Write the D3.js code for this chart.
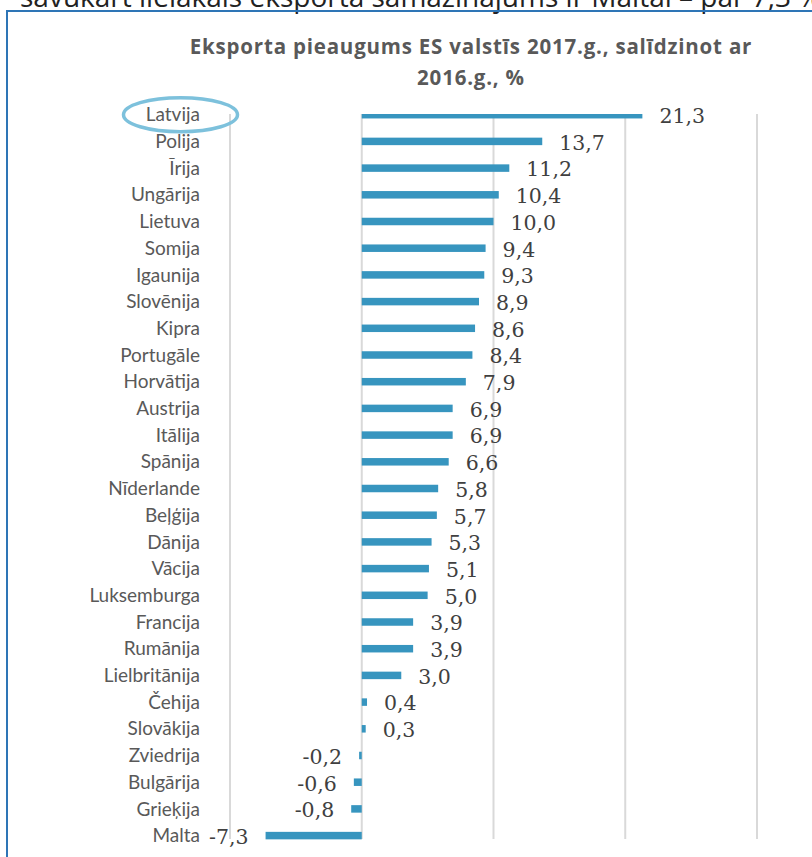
<!DOCTYPE html>
<html>
<head>
<meta charset="utf-8">
<script src="https://cdn.jsdelivr.net/npm/d3@7"></script>
<style>
  body { margin: 0; background: #fff; }
</style>
</head>
<body>
<div id="chart"></div>
<script>
var countries = ["Latvija", "Polija", "Īrija", "Ungārija", "Lietuva", "Somija", "Igaunija",
  "Slovēnija", "Kipra", "Portugāle", "Horvātija", "Austrija", "Itālija", "Spānija",
  "Nīderlande", "Beļģija", "Dānija", "Vācija", "Luksemburga", "Francija", "Rumānija",
  "Lielbritānija", "Čehija", "Slovākija", "Zviedrija", "Bulgārija", "Grieķija", "Malta"]
var growth = [21.3, 13.7, 11.2, 10.4, 10.0, 9.4, 9.3, 8.9, 8.6, 8.4, 7.9, 6.9, 6.9, 6.6,
  5.8, 5.7, 5.3, 5.1, 5.0, 3.9, 3.9, 3.0, 0.4, 0.3, -0.2, -0.6, -0.8, -7.3]
var gridTicks = [-10, 0, 10, 20, 30]
var titleLines = ["Eksporta pieaugums ES valstīs 2017.g., salīdzinot ar", "2016.g., %"]

var width = 812,
    height = 857
var plotTop = 114, plotBottom = 839

var svg = d3.select("#chart")
  .append("svg")
    .attr("width", width)
    .attr("height", height)

// cut-off line of text from the page above the chart
svg.append("text")
  .attr("x", 20)
  .attr("y", 7)
  .style("font-family", "'Open Sans', sans-serif")
  .style("font-size", "28px")
  .style("fill", "#222")
  .text("savukārt lielākais eksporta samazinājums ir Maltai – par 7,3 %")

// frame
svg.append("path")
  .attr("d", "M7," + height + "V11H" + width)
  .attr("fill", "none")
  .attr("stroke", "#2e75b6")
  .attr("stroke-width", 2)

var x = d3.scaleLinear()
  .domain([-10, 30])
  .range([230, 757])

var y = d3.scalePoint()
  .domain(countries)
  .range([114.7, 835.6])

// gridlines
svg.selectAll("grid")
  .data(gridTicks)
  .enter()
  .append("line")
    .attr("x1", function(d) { return x(d) })
    .attr("x2", function(d) { return x(d) })
    .attr("y1", plotTop)
    .attr("y2", plotBottom)
    .attr("stroke", "#d9d9d9")
    .attr("stroke-width", 2)

svg.append("clipPath")
  .attr("id", "plotclip")
  .append("rect")
    .attr("x", 0)
    .attr("y", plotTop)
    .attr("width", width)
    .attr("height", plotBottom - plotTop + 5)

var barH = 7.5
svg.append("g")
  .attr("clip-path", "url(#plotclip)")
  .selectAll("rect")
  .data(countries)
  .enter()
  .append("rect")
    .attr("x", function(d, i) { return x(Math.min(0, growth[i])) })
    .attr("y", function(d) { return y(d) - barH / 2 })
    .attr("width", function(d, i) { return Math.abs(x(growth[i]) - x(0)) })
    .attr("height", barH)
    .attr("fill", "#3795bf")

// value labels
svg.selectAll("vals")
  .data(countries)
  .enter()
  .append("text")
    .attr("x", function(d, i) { return growth[i] < 0 ? x(growth[i]) - 17 : x(growth[i]) + 17 })
    .attr("y", function(d) { return y(d) + 1 })
    .attr("dy", "0.36em")
    .style("text-anchor", function(d, i) { return growth[i] < 0 ? "end" : "start" })
    .style("font-family", "'DejaVu Serif', serif")
    .style("font-size", "20.5px")
    .style("fill", "#404040")
    .text(function(d, i) { return d3.format(".1f")(growth[i]).replace(".", ",").replace("−", "-") })

// category labels
svg.selectAll("cats")
  .data(countries)
  .enter()
  .append("text")
    .attr("x", 200)
    .attr("y", function(d) { return y(d) })
    .attr("dy", "0.35em")
    .style("text-anchor", "end")
    .style("font-family", "Lato, sans-serif")
    .style("font-size", "19px")
    .style("fill", "#595959")
    .text(function(d) { return d })

// highlight Latvija
svg.append("ellipse")
  .attr("cx", 180.5)
  .attr("cy", y("Latvija"))
  .attr("rx", 57)
  .attr("ry", 17)
  .attr("fill", "none")
  .attr("stroke", "#7dc1dc")
  .attr("stroke-width", 3.5)

// title
svg.selectAll("title")
  .data(titleLines)
  .enter()
  .append("text")
    .attr("x", 471)
    .attr("y", function(d, i) { return 54 + i * 31 })
    .style("text-anchor", "middle")
    .style("font-family", "'Open Sans', sans-serif")
    .style("font-weight", "bold")
    .style("font-size", "20.5px")
    .style("letter-spacing", "0.8px")
    .style("fill", "#595959")
    .text(function(d) { return d })
</script>
</body>
</html>
